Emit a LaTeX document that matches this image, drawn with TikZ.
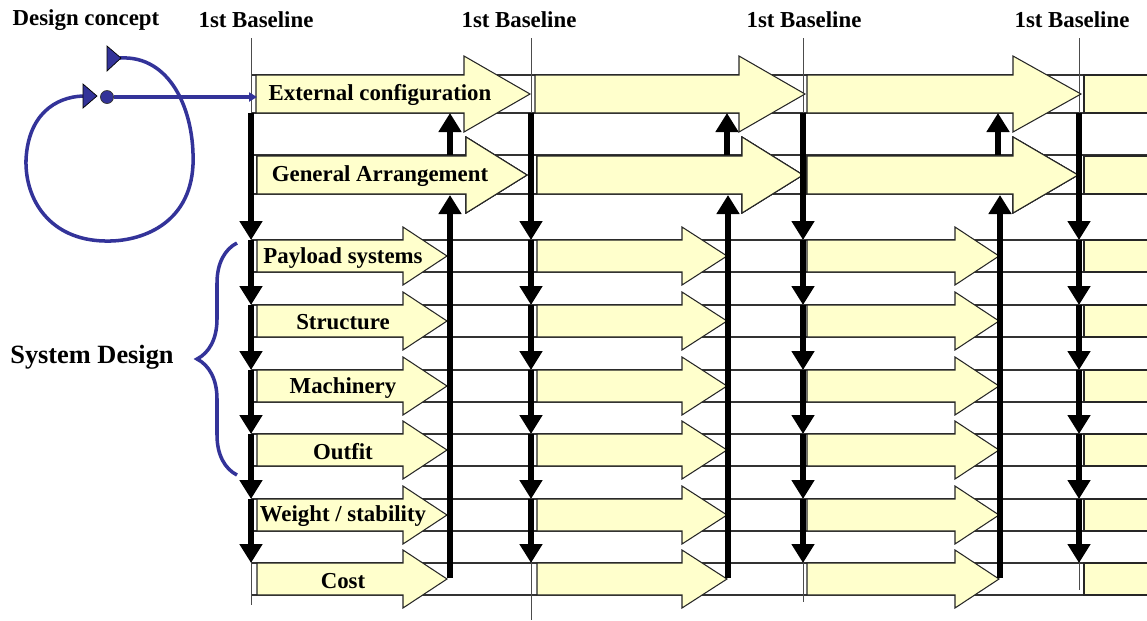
\documentclass[tikz,border=0pt]{standalone}
\usepackage{fontspec}
\setmainfont{Liberation Serif}
\usetikzlibrary{arrows.meta,decorations.pathreplacing}

\definecolor{paleyellow}{RGB}{255,255,204}
\definecolor{conceptblue}{RGB}{51,51,153}

\tikzset{
  flowbox/.style={fill=paleyellow,draw=black!85,line width=0.6pt},
  gridline/.style={draw=black!80,line width=0.6pt},
  baseln/.style={draw=black!70,line width=0.5pt},
  thickarr/.style={line width=3.4pt,-{Triangle[width=0.44cm,length=0.38cm]}},
  conceptline/.style={draw=conceptblue,line width=2pt},
  lbl/.style={font=\bfseries\fontsize{13}{15}\selectfont,inner sep=0pt},
}

% arrow outline: start x, head base x, tip x, centre y, half shaft, half head
\newcommand{\flowarrow}[6]{%
  \draw[flowbox] (#1,#4-#5) -- (#2,#4-#5) -- (#2,#4-#6) -- (#3,#4)
    -- (#2,#4+#6) -- (#2,#4+#5) -- (#1,#4+#5) -- cycle;}

\begin{document}
\begin{tikzpicture}[x=0.02cm,y=-0.02cm]
    \useasboundingbox (0,0) rectangle (1147,620);
    \clip (0,0) rectangle (1147,620);

    % grid lines
    \foreach \y in {75,113,155,194,240,272,305,337,370,402,434,466,499,531,563,595}
        \draw[gridline] (251,\y) -- (1147,\y);
    \foreach \x/\yb in {251/605,531/620,803/602,1079/590}
        \draw[baseln] (\x,38) -- (\x,\yb);

    \foreach \x [count=\i] in {256,519,804,1072}
        \node[lbl] (base\i) at (\x,20) {1st Baseline};

    % design level
    \foreach \xa/\xb/\xc in {256/464/530,535/739/805,807/1013/1081}
        \flowarrow{\xa}{\xb}{\xc}{94}{19}{38}
    \foreach \xa/\xb/\xc in {257/466/527,537/742/803,807/1013/1078}
        \flowarrow{\xa}{\xb}{\xc}{175}{19}{38}
    \draw[flowbox] (1084,75) rectangle (1160,113);
    \draw[flowbox] (1084,156) rectangle (1160,194);

    % system level
    \foreach \y in {256,321,386,450,515,579} {
        \flowarrow{257}{403}{447}{\y}{16}{29}
        \flowarrow{537}{682}{727}{\y}{16}{29}
        \flowarrow{807}{955}{999}{\y}{16}{29}
        \draw[flowbox] (1084,\y-16) rectangle (1160,\y+16);
    }

    \node[lbl] (ext) at (380,95) {External configuration};
    \node[lbl] (ga) at (380,176) {General Arrangement};
    \node[lbl] (pay) at (343,258) {Payload systems};
    \node[lbl] (struc) at (343,322) {Structure};
    \node[lbl] (mach) at (343,388) {Machinery};
    \node[lbl] (outfit) at (343,452) {Outfit};
    \node[lbl] (weight) at (343,516) {Weight / stability};
    \node[lbl] (cost) at (343,581) {Cost};

    % iteration arrows
    \foreach \x in {251,531,803,1079} {
        \draw[thickarr] (\x,113) -- (\x,240);
        \foreach \ya/\yb in {240/305,305/370,370/434,434/499,499/563}
            \draw[thickarr] (\x,\ya) -- (\x,\yb);
    }
    \foreach \x in {450,727,998}
        \draw[thickarr] (\x,155) -- (\x,113);
    \foreach \x in {450,728,1000}
        \draw[thickarr] (\x,578) -- (\x,195);

    % design concept spiral
    \node[lbl] (concept) at (86,20) {Design concept};
    \draw[conceptline] (120,58) .. controls (170,55) and (195,110) .. (193,165)
        .. controls (190,225) and (140,242) .. (105,241)
        .. controls (50,240) and (25,200) .. (26,160)
        .. controls (28,115) and (55,97) .. (83,96);
    \fill[conceptblue,draw=black] (107,46) -- (121,58) -- (107,71) -- cycle;
    \fill[conceptblue,draw=black] (83,84) -- (97,96) -- (83,108) -- cycle;
    \node[circle,fill=conceptblue,draw=black!80,inner sep=0pt,minimum size=0.26cm] (dot) at (107,97) {};
    \coordinate (extin) at (257,97);
    \draw[conceptline,-{Triangle[width=0.18cm,length=0.16cm]}] (dot) -- (extin);

    % system design brace
    \draw[conceptline,decorate,decoration={brace,amplitude=0.8cm}] (237,475) -- (237,243);
    \node[lbl,font=\bfseries\fontsize{15}{17}\selectfont] (sysdes) at (92,357) {System Design};
\end{tikzpicture}
\end{document}
